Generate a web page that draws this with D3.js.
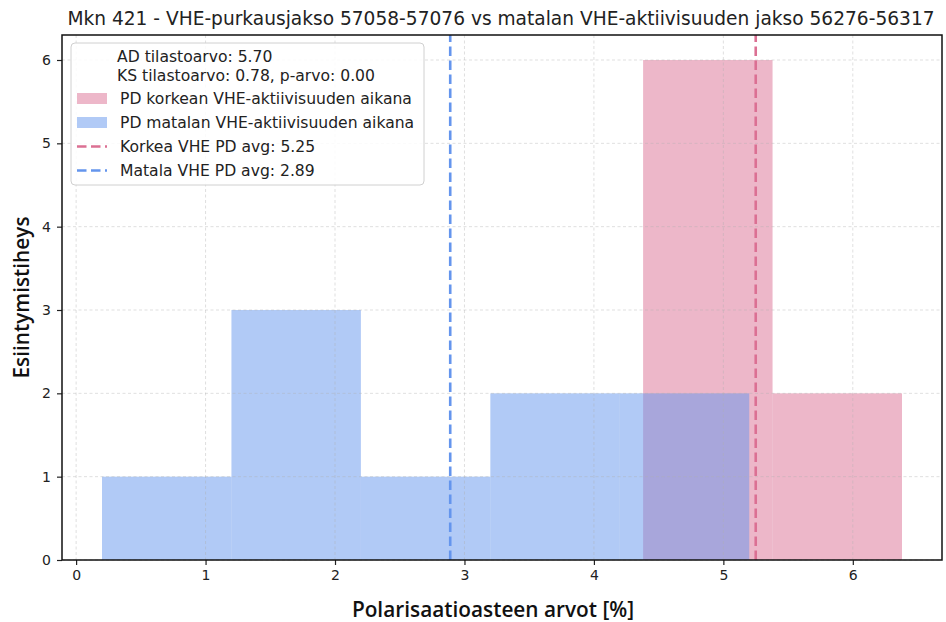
<!DOCTYPE html>
<html>
<head>
<meta charset="utf-8">
<script src="https://cdn.jsdelivr.net/npm/d3@7"></script>
<style>
  html, body { margin: 0; padding: 0; background: #fff; }
  svg { display: block; }
</style>
</head>
<body>
<svg id="chart" width="946" height="622"></svg>
<script>
// Histogram bins (left edges, unit width) and counts for the two periods
const binWidth = 1.0;
const highEdges = [4.38, 5.38];
const highCounts = [6, 2];
const lowEdges = [0.2, 1.2, 2.2, 3.2, 4.2];
const lowCounts = [1, 3, 1, 2, 2];

// Period averages
const highMean = 5.25;
const lowMean = 2.89;

// Test statistics
const adStat = 5.70;
const ksStat = 0.78;
const ksP = 0.00;

const xTicks = [0, 1, 2, 3, 4, 5, 6];
const yTicks = [0, 1, 2, 3, 4, 5, 6];

const titleText = "Mkn 421 - VHE-purkausjakso 57058-57076 vs matalan VHE-aktiivisuuden jakso 56276-56317";
const xLabel = "Polarisaatioasteen arvot [%]";
const yLabel = "Esiintymistiheys";
const legendLabels = [
  "PD korkean VHE-aktiivisuuden aikana",
  "PD matalan VHE-aktiivisuuden aikana",
  "Korkea VHE PD avg: " + highMean.toFixed(2),
  "Matala VHE PD avg: " + lowMean.toFixed(2)
];

const pink = "#DB7093";
const blue = "#6495ED";

const svg = d3.select("#chart");
const m = { left: 62, right: 942, top: 35, bottom: 560 };

const x = d3.scaleLinear().domain([-0.109, 6.689]).range([m.left, m.right]);
const y = d3.scaleLinear().domain([0, 6.3]).range([m.bottom, m.top]);

const font = "DejaVu Sans, sans-serif";

// Bars: high-activity first, low-activity on top
const highBins = highEdges.map((e, i) => ({ x0: e, x1: e + binWidth, n: highCounts[i] }));
const lowBins = lowEdges.map((e, i) => ({ x0: e, x1: e + binWidth, n: lowCounts[i] }));

function drawBins(bins, color) {
  svg.append("g").selectAll("rect").data(bins).join("rect")
    .attr("x", d => x(d.x0))
    .attr("width", d => x(d.x1) - x(d.x0))
    .attr("y", d => y(d.n))
    .attr("height", d => y(0) - y(d.n))
    .attr("fill", color)
    .attr("fill-opacity", 0.5);
}
drawBins(highBins, pink);
drawBins(lowBins, blue);

// Grid
const grid = svg.append("g").attr("stroke", "#b0b0b0").attr("stroke-opacity", 0.5)
  .attr("stroke-width", 0.8).attr("stroke-dasharray", "3,2.5");
grid.selectAll("line.gx").data(xTicks).join("line").attr("class", "gx")
  .attr("x1", d => x(d)).attr("x2", d => x(d)).attr("y1", m.top).attr("y2", m.bottom);
grid.selectAll("line.gy").data(yTicks).join("line").attr("class", "gy")
  .attr("y1", d => y(d)).attr("y2", d => y(d)).attr("x1", m.left).attr("x2", m.right);

// Mean lines
function meanLine(v, color) {
  svg.append("line")
    .attr("x1", x(v)).attr("x2", x(v)).attr("y1", m.bottom).attr("y2", m.top)
    .attr("stroke", color).attr("stroke-width", 2.6).attr("stroke-dasharray", "9.5,4.5");
}
meanLine(highMean, pink);
meanLine(lowMean, blue);

// Axes
const xAxis = d3.axisBottom(x).tickValues(xTicks).tickFormat(d3.format("d")).tickSize(5).tickPadding(5);
const yAxis = d3.axisLeft(y).tickValues(yTicks).tickFormat(d3.format("d")).tickSize(5).tickPadding(6);

const gx = svg.append("g").attr("transform", `translate(0,${m.bottom})`).call(xAxis);
const gy = svg.append("g").attr("transform", `translate(${m.left},0)`).call(yAxis);
[gx, gy].forEach(g => {
  g.select(".domain").remove();
  g.selectAll(".tick line").attr("stroke", "#222").attr("stroke-width", 1.2);
  g.selectAll(".tick text").attr("font-family", font).attr("font-size", 14).attr("fill", "#222");
});

// Frame
svg.append("rect")
  .attr("x", m.left).attr("y", m.top)
  .attr("width", m.right - m.left).attr("height", m.bottom - m.top)
  .attr("fill", "none").attr("stroke", "#111").attr("stroke-width", 1.5);

// Title and axis labels
svg.append("text").attr("x", 501).attr("y", 25).attr("text-anchor", "middle")
  .attr("font-family", font).attr("font-size", 18.6).attr("fill", "#222").text(titleText);

svg.append("text").attr("x", 493).attr("y", 617).attr("text-anchor", "middle")
  .attr("font-family", "Open Sans, sans-serif").attr("font-weight", 600).attr("font-size", 20.8)
  .attr("fill", "#111").text(xLabel);

svg.append("text").attr("transform", `translate(29,${(m.top + m.bottom) / 2}) rotate(-90)`)
  .attr("text-anchor", "middle")
  .attr("font-family", "Open Sans, sans-serif").attr("font-weight", 600).attr("font-size", 20.8)
  .attr("fill", "#111").text(yLabel);

// Legend
const lg = svg.append("g").attr("transform", "translate(71,43)");
lg.append("rect").attr("width", 353).attr("height", 142).attr("rx", 4)
  .attr("fill", "#fff").attr("fill-opacity", 0.85).attr("stroke", "#d0d0d0").attr("stroke-width", 1);

const lt = (xx, yy, s) => lg.append("text").attr("x", xx).attr("y", yy)
  .attr("font-family", font).attr("font-size", 15.6).attr("fill", "#222").text(s);

lt(46, 19, "AD tilastoarvo: " + adStat.toFixed(2));
lt(46, 37.5, "KS tilastoarvo: " + ksStat.toFixed(2) + ", p-arvo: " + ksP.toFixed(2));

const rowY = [55.5, 79.5, 103.5, 127.5];
lg.append("rect").attr("x", 6).attr("y", rowY[0] - 5.5).attr("width", 30).attr("height", 11)
  .attr("fill", pink).attr("fill-opacity", 0.5);
lg.append("rect").attr("x", 6).attr("y", rowY[1] - 5.5).attr("width", 30).attr("height", 11)
  .attr("fill", blue).attr("fill-opacity", 0.5);
[[rowY[2], pink], [rowY[3], blue]].forEach(([ry, c]) => {
  lg.append("line").attr("x1", 6).attr("x2", 36).attr("y1", ry).attr("y2", ry)
    .attr("stroke", c).attr("stroke-width", 2.6).attr("stroke-dasharray", "9.5,4.5");
});
legendLabels.forEach((s, i) => lt(49, rowY[i] + 5.5, s));
</script>
</body>
</html>
